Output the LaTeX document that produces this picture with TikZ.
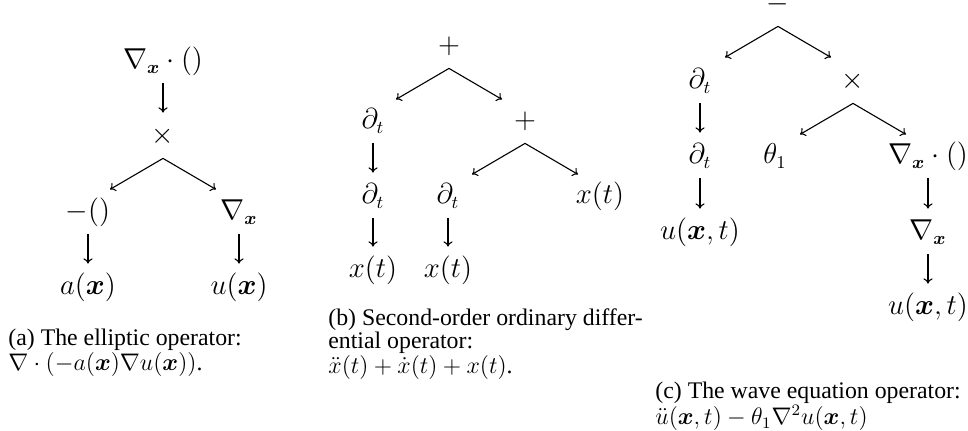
\documentclass[tikz,border=0pt]{standalone}
\usepackage{amsmath,amssymb}
\usepackage[no-math]{fontspec}
\setmainfont{Liberation Serif}
\usetikzlibrary{arrows.meta}
\begin{document}
\begin{tikzpicture}[x=0.5pt,y=-0.5pt,
op/.style={font=\fontsize{13.5}{16}\selectfont,inner xsep=1pt,inner ysep=3.75pt,text height=10.1pt,text depth=3.4pt},
ar/.style={-{To[length=2.6pt,width=4.6pt]},line width=0.55pt},
dn/.style={ar,shorten >=1.5pt},
capt/.style={anchor=north west,align=left,inner sep=0pt,font=\fontsize{11.9}{11.5}\selectfont}]
\useasboundingbox(0,0)rectangle(968,430);
\node[op](A0)at(163,62){$\nabla_{\boldsymbol{x}}\cdot()$};\node[op](A1)at(163,137){$\times$};
\node[op](A2)at(88,213){$-()$};\node[op](A3)at(239,213){$\nabla_{\boldsymbol{x}}$};
\node[op](A4)at(88,288){$a(\boldsymbol{x})$};\node[op](A5)at(239,288){$u(\boldsymbol{x})$};
\node[op](B0)at(449,47){$+$};\node[op](B1)at(373,122){$\partial_t$};\node[op](B2)at(525,122){$+$};
\node[op](B3)at(373,197){$\partial_t$};\node[op](B4)at(448,197){$\partial_t$};\node[op](B5)at(600,197){$x(t)$};
\node[op](B6)at(373,271){$x(t)$};\node[op](B7)at(448,271){$x(t)$};
\node[op](C0)at(778,5){$-$};\node[op](C1)at(700,82){$\partial_t$};\node[op](C2)at(853,82){$\times$};
\node[op](C3)at(700,157){$\partial_t$};\node[op](C4)at(775,157){$\theta_1$};\node[op](C5)at(928,157){$\nabla_{\boldsymbol{x}}\cdot()$};
\node[op](C6)at(700,233){$u(\boldsymbol{x},t)$};\node[op](C7)at(928,233){$\nabla_{\boldsymbol{x}}$};
\node[op](C8)at(928,308){$u(\boldsymbol{x},t)$};
\foreach\a/\b in{A0/A1,A2/A4,A3/A5,B1/B3,B3/B6,B4/B7,C1/C3,C3/C6,C5/C7,C7/C8}{\draw[dn](\a)--(\b);}
\foreach\p in{A1,B0,B2,C0,C2}{\draw[ar](\p.south)--++(-53,31);\draw[ar](\p.south)--++(53,31);}
\node[capt](capA)at(8,328.5){(a) The elliptic operator:\\$\nabla\cdot(-a(\boldsymbol{x})\nabla u(\boldsymbol{x}))$.};
\node[capt](capB)at(328,308.5){(b) Second-order ordinary differ-\\ential operator:\\$\ddot{x}(t)+\dot{x}(t)+x(t)$.};
\node[capt](capC)at(655,381.5){(c) The wave equation operator:\\$\ddot{u}(\boldsymbol{x},t)-\theta_1\nabla^2u(\boldsymbol{x},t)$};
\end{tikzpicture}
\end{document}
